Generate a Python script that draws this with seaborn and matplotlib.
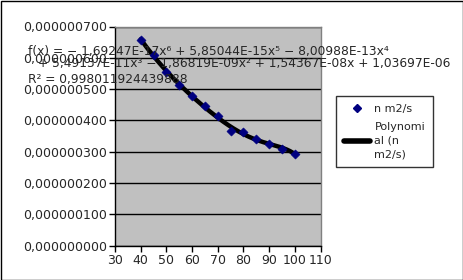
import numpy as np
import pandas as pd
import matplotlib
matplotlib.use("Agg")
import matplotlib.pyplot as plt
import seaborn as sns
from matplotlib.ticker import FuncFormatter, MultipleLocator
from matplotlib.lines import Line2D
from matplotlib.patches import Rectangle

# ---- data ----
temperature = [40, 45, 50, 55, 60, 65, 70, 75, 80, 85, 90, 95, 100]
viscosity = [6.58e-7, 6.10e-7, 5.54e-7, 5.14e-7, 4.77e-7, 4.46e-7, 4.14e-7,
             3.65e-7, 3.63e-7, 3.39e-7, 3.26e-7, 3.10e-7, 2.93e-7]
series_label = "n m2/s"
trend_label = "Polynomi\nal (n\nm2/s)"
eq_line1 = "f(x) = − 1,69247E-17x⁶ + 5,85044E-15x⁵ − 8,00988E-13x⁴"
eq_line2 = "+ 5,49137E-11x³ − 1,86819E-09x² + 1,54367E-08x + 1,03697E-06"
eq_line3 = "R² = 0,998011924439888"

df = pd.DataFrame({"x": temperature, "y": viscosity})
coef = np.polyfit(df["x"], df["y"], 6)
xs = np.linspace(min(temperature), max(temperature), 200)
trend = pd.DataFrame({"x": xs, "y": np.polyval(coef, xs)})

sns.set_style("white")
plt.rcParams["font.family"] = ["DejaVu Sans"]
plt.rcParams["font.size"] = 9

fig = plt.figure(figsize=(4.64, 2.80), dpi=100)
fig.patch.set_facecolor("white")
W, H = 464, 280
ax = fig.add_axes([115 / W, 1 - 245.5 / H, (320.5 - 115) / W, (245.5 - 26.5) / H])
ax.set_facecolor("#c0c0c0")

sns.lineplot(data=trend, x="x", y="y", ax=ax, color="black", lw=3.2, zorder=3)
sns.scatterplot(data=df, x="x", y="y", ax=ax, marker="D", color="#000080",
                edgecolor="#000080", s=22, zorder=4)

ax.set_xlim(30, 110)
ax.set_ylim(0, 7e-7)
ax.xaxis.set_major_locator(MultipleLocator(10))
ax.yaxis.set_major_locator(MultipleLocator(1e-7))
ax.yaxis.set_major_formatter(FuncFormatter(lambda v, p: f"{v:.9f}".replace(".", ",")))
ax.grid(axis="y", color="black", lw=1)
ax.set_axisbelow(True)
ax.set_xlabel("")
ax.set_ylabel("")
for s in ["left", "bottom"]:
    ax.spines[s].set_color("black")
    ax.spines[s].set_linewidth(1)
for s in ["top", "right"]:
    ax.spines[s].set_color("#808080")
    ax.spines[s].set_linewidth(1)
ax.tick_params(axis="both", direction="out", length=4, width=1, color="black",
               labelsize=9, pad=2, left=True, bottom=True)

handles = [
    Line2D([], [], marker="D", color="#000080", ls="none", markersize=4.5),
    Line2D([], [], color="black", lw=4),
]
leg = fig.legend(handles, [series_label, trend_label], loc="upper left",
                 bbox_to_anchor=(336 / W, 1 - 96 / H), frameon=True, fancybox=False,
                 fontsize=8, handlelength=2.4, borderpad=0.7, labelspacing=0.75,
                 handletextpad=0.36, borderaxespad=0)
for t in leg.get_texts():
    t.set_linespacing(1.45)
leg.get_frame().set_edgecolor("black")
leg.get_frame().set_linewidth(1)
leg.get_frame().set_boxstyle("square", pad=0)

fig.text(28 / W, 1 - 51 / H, eq_line1, fontsize=8.8, va="center", ha="left", zorder=5)
fig.text(38 / W, 1 - 64 / H, eq_line2, fontsize=8.8, va="center", ha="left", zorder=5)
fig.text(28 / W, 1 - 79 / H, eq_line3, fontsize=8.8, va="center", ha="left", zorder=5)

fig.add_artist(Rectangle((0.5 / W, 0.5 / H), 1 - 1.5 / W, 1 - 1.5 / H,
                         transform=fig.transFigure, fill=False, edgecolor="black", lw=1))

fig.savefig("out.png", dpi=100)
